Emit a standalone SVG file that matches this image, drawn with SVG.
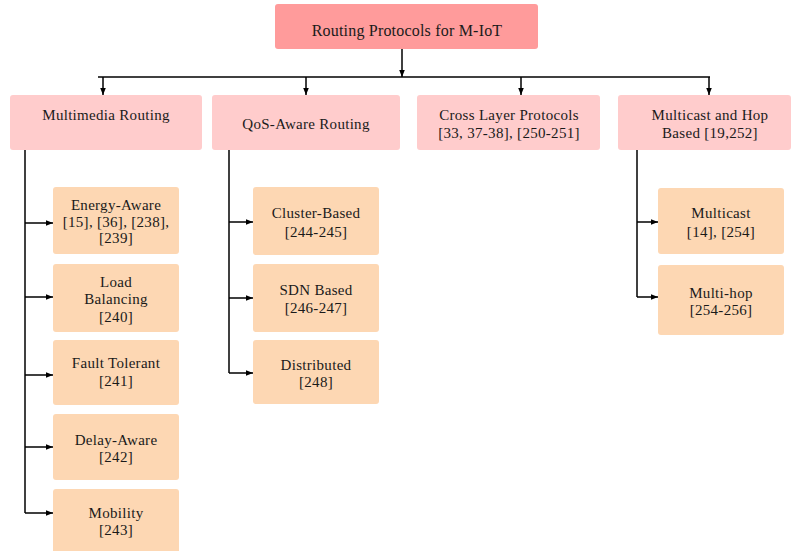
<svg xmlns="http://www.w3.org/2000/svg" width="793" height="551" viewBox="0 0 793 551">
<defs>
<marker id="ah" viewBox="0 0 10 10" refX="10" refY="5" markerWidth="7" markerHeight="7" markerUnits="userSpaceOnUse" orient="auto">
<path d="M0,1 L10,5 L0,9 z" fill="#000"/>
</marker>
<style>
.root{fill:#FF9B9B;}
.l2{fill:#FFCCCC;}
.l3{fill:#FDD7B3;}
text{font-size:15px;letter-spacing:0.3px;fill:#1a1a1a;text-anchor:middle;}
.t{font-size:16px;letter-spacing:0.2px;}
.c{fill:none;stroke:#000;stroke-width:1.5;}
.a{fill:none;stroke:#000;stroke-width:1.5;marker-end:url(#ah);}
</style>
</defs>
<rect width="793" height="551" fill="#fff"/>
<g id="connectors">
<path class="a" d="M402,49 V77"/>
<path class="c" d="M98,77 H710"/>
<path class="a" d="M103,77 V95"/>
<path class="a" d="M306,77 V95"/>
<path class="a" d="M521,77 V95"/>
<path class="a" d="M709,77 V95"/>
<path class="c" d="M25,150 V513"/>
<path class="a" d="M25,223 H53"/>
<path class="a" d="M25,297 H53"/>
<path class="a" d="M25,375 H53"/>
<path class="a" d="M25,447 H53"/>
<path class="a" d="M25,513 H53"/>
<path class="c" d="M229,150 V373"/>
<path class="a" d="M229,222 H253"/>
<path class="a" d="M229,298 H253"/>
<path class="a" d="M229,373 H253"/>
<path class="c" d="M637,150 V297"/>
<path class="a" d="M637,222 H658"/>
<path class="a" d="M637,297 H658"/>
</g>
<g font-family="'Liberation Serif', 'DejaVu Serif', serif">
<g id="root"><rect class="root" x="275" y="4" width="263" height="45" rx="3"/><text class="t" x="407" y="36">Routing Protocols for M-IoT</text></g>
<g id="multimedia"><rect class="l2" x="10" y="95" width="192" height="55" rx="3"/><text x="106" y="120">Multimedia Routing</text></g>
<g id="qos"><rect class="l2" x="212" y="95" width="188" height="55" rx="3"/><text x="306" y="129">QoS-Aware Routing</text></g>
<g id="crosslayer"><rect class="l2" x="417" y="95" width="183" height="55" rx="3"/><text x="509" y="120">Cross Layer Protocols</text><text x="509" y="138">[33, 37-38], [250-251]</text></g>
<g id="multicasthop"><rect class="l2" x="618" y="95" width="173" height="55" rx="3"/><text x="710" y="120">Multicast and Hop</text><text x="710" y="138">Based [19,252]</text></g>
<g id="energy"><rect class="l3" x="53" y="187" width="126" height="67" rx="3"/><text x="116" y="210">Energy-Aware</text><text x="116" y="227">[15], [36], [238],</text><text x="116" y="243">[239]</text></g>
<g id="load"><rect class="l3" x="53" y="264" width="126" height="68" rx="3"/><text x="116" y="287">Load</text><text x="116" y="304">Balancing</text><text x="116" y="322">[240]</text></g>
<g id="fault"><rect class="l3" x="53" y="340" width="126" height="65" rx="3"/><text x="116" y="368">Fault Tolerant</text><text x="116" y="386">[241]</text></g>
<g id="delay"><rect class="l3" x="53" y="414" width="126" height="66" rx="3"/><text x="116" y="445">Delay-Aware</text><text x="116" y="462">[242]</text></g>
<g id="mobility"><rect class="l3" x="53" y="489" width="126" height="66" rx="3"/><text x="116" y="518">Mobility</text><text x="116" y="535">[243]</text></g>
<g id="cluster"><rect class="l3" x="253" y="187" width="126" height="68" rx="3"/><text x="316" y="218">Cluster-Based</text><text x="316" y="237">[244-245]</text></g>
<g id="sdn"><rect class="l3" x="253" y="264" width="126" height="68" rx="3"/><text x="316" y="295">SDN Based</text><text x="316" y="313">[246-247]</text></g>
<g id="distributed"><rect class="l3" x="253" y="340" width="126" height="64" rx="3"/><text x="316" y="370">Distributed</text><text x="316" y="387">[248]</text></g>
<g id="multicast"><rect class="l3" x="658" y="188" width="126" height="66" rx="3"/><text x="721" y="218">Multicast</text><text x="721" y="237">[14], [254]</text></g>
<g id="multihop"><rect class="l3" x="658" y="265" width="126" height="70" rx="3"/><text x="721" y="298">Multi-hop</text><text x="721" y="315">[254-256]</text></g>
</g>
</svg>
